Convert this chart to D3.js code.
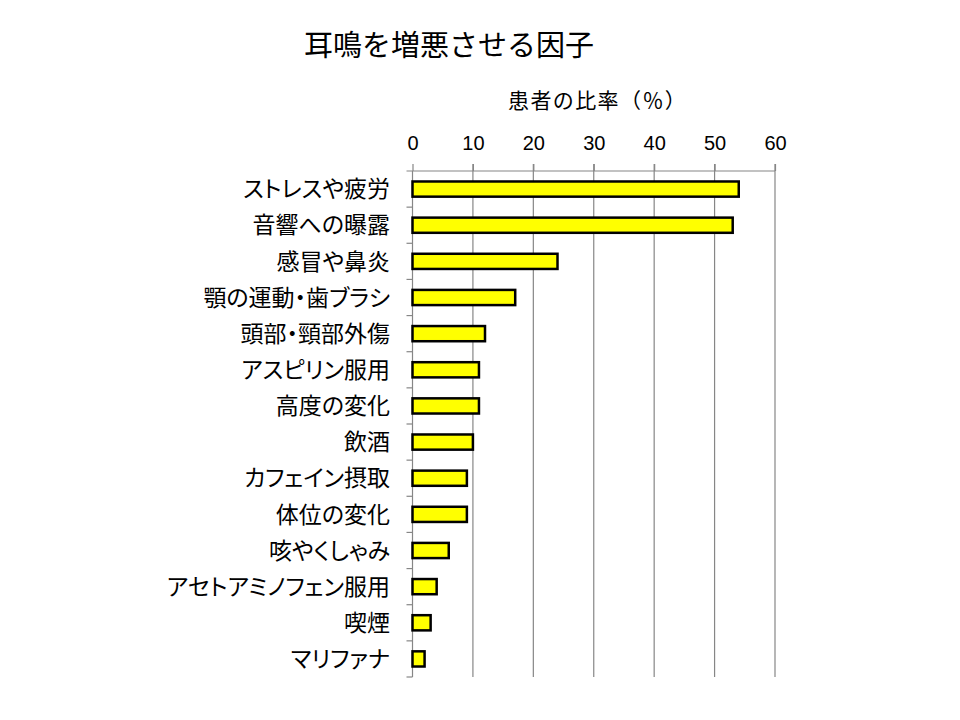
<!DOCTYPE html>
<html><head><meta charset="utf-8">
<script src="https://cdn.jsdelivr.net/npm/d3@7/dist/d3.min.js"></script>
<style>body{margin:0;background:#fff}svg{display:block}.lab{font-feature-settings:"palt"}</style>
</head><body>
<svg id="c" width="960" height="720"></svg>
<script>
const categories = ["ストレスや疲労","音響への曝露","感冒や鼻炎","顎の運動・歯ブラシ","頭部・頸部外傷","アスピリン服用","高度の変化","飲酒","カフェイン摂取","体位の変化","咳やくしゃみ","アセトアミノフェン服用","喫煙","マリファナ"];
const values = [54,53,24,17,12,11,11,10,9,9,6,4,3,2];
const ticks = [0,10,20,30,40,50,60];
const title = "耳鳴を増悪させる因子";
const axisTitle = "患者の比率（％）";

(function(){
const svg = d3.select("#c");
const jp = "'Noto Sans CJK JP','Noto Sans CJK SC',sans-serif";
const pL = 412.5, pR = 775, pT = 171, pB = 677;
const x = d3.scaleLinear().domain([0,60]).range([pL,pR]);
const y = d3.scaleBand().domain(categories).range([pT,pB]).paddingInner(0.58).paddingOuter(0.29);
const yb = d3.scaleBand().domain(categories).range([pT,pB]);

svg.append("g").selectAll("line").data(ticks.slice(1)).join("line")
  .attr("x1",d=>x(d)).attr("x2",d=>x(d)).attr("y1",pT-7).attr("y2",pB)
  .attr("stroke","#868686").attr("stroke-width",1.2);

const gx = svg.append("g").attr("transform",`translate(0,${pT})`)
  .call(d3.axisTop(x).tickValues(ticks).tickSize(7).tickPadding(14).tickFormat(d3.format("d")));
gx.select(".domain").attr("stroke","#868686").attr("stroke-width",1.2).attr("d",`M${pL-6},0H${pR}`);
gx.selectAll(".tick line").attr("stroke","#868686").attr("stroke-width",1.2);
gx.selectAll("text").attr("font-family","'Liberation Sans',Arial,sans-serif").attr("font-size",20).attr("fill","#000");

svg.append("line").attr("x1",pL).attr("x2",pL).attr("y1",pT).attr("y2",pB)
  .attr("stroke","#868686").attr("stroke-width",1.2);
svg.append("g").selectAll("line").data(categories).join("line")
  .attr("x1",pL-6).attr("x2",pL)
  .attr("y1",(d,i)=> pT + yb.step()*(i+1)).attr("y2",(d,i)=> pT + yb.step()*(i+1))
  .attr("stroke","#868686").attr("stroke-width",1.2);

svg.append("g").selectAll("rect").data(values).join("rect")
  .attr("x",x(0)).attr("y",(d,i)=>y(categories[i]))
  .attr("width",d=>x(d)-x(0)).attr("height",y.bandwidth())
  .attr("fill","#FFFF00").attr("stroke","#000").attr("stroke-width",2.5);

svg.append("g").selectAll("text").data(categories).join("text")
  .attr("class","lab")
  .attr("x",390).attr("y",d=>yb(d)+yb.bandwidth()/2).attr("dy","0.36em")
  .attr("text-anchor","end").attr("font-family",jp).attr("font-size",23).attr("fill","#000")
  .text(d=>d);

svg.append("text").attr("x",449).attr("y",56).attr("text-anchor","middle")
  .attr("font-family",jp).attr("font-size",29).attr("fill","#000").text(title);
svg.append("text").attr("x",508).attr("y",108).attr("text-anchor","start")
  .attr("font-family",jp).attr("font-size",21).attr("letter-spacing",1.4).attr("fill","#000").text(axisTitle);
})();
</script>
</body></html>
